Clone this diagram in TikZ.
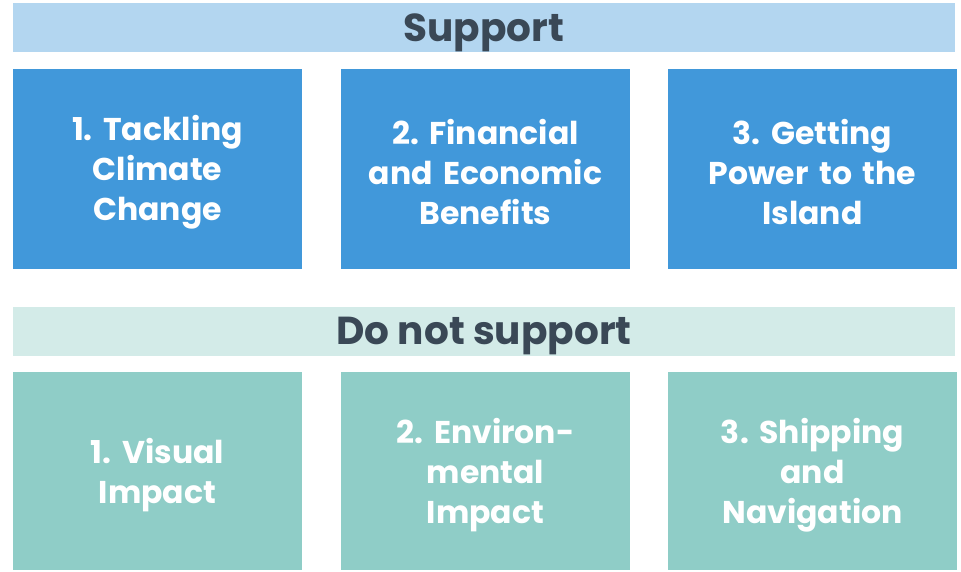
\documentclass[tikz,border=0pt]{standalone}
\usepackage{fontspec}
\setmainfont{Poppins}
\definecolor{barblue}{HTML}{B3D6F0}
\definecolor{boxblue}{HTML}{4198DA}
\definecolor{barteal}{HTML}{D3EBE8}
\definecolor{boxteal}{HTML}{8FCDC7}
\definecolor{headtext}{HTML}{3A4856}
\tikzset{
  bar/.style={fill=#1, minimum width=942pt, minimum height=49pt, inner sep=0pt,
    text=headtext, text depth=0pt, font=\fontsize{39}{44}\selectfont\bfseries\frenchspacing},
  tile/.style={fill=#1, minimum width=289pt, minimum height=200pt, inner sep=0pt},
  tiletext/.style={text=white, text width=280pt, align=center, inner sep=0pt, yshift=-4pt,
    font=\fontsize{31.5}{40}\selectfont\bfseries\frenchspacing}
}
\begin{document}
\begin{tikzpicture}[x=1pt,y=-1pt]
      \useasboundingbox (0,0) rectangle (961,571);
      \node[bar=barblue] (sup) at (484,27.5) {Support};
      \node[tile=boxblue] (s1) at (157.5,168.5) {};
      \node[tile=boxblue] (s2) at (485.5,168.5) {};
      \node[tile=boxblue] (s3) at (812.5,168.5) {};
      \node[tiletext] (s1txt) at (s1) {1. Tackling\\Climate\\Change};
      \node[tiletext] (s2txt) at (s2) {2. Financial\\and Economic\\Benefits};
      \node[tiletext] (s3txt) at (s3) {3. Getting\\Power to the\\Island};
      \node[bar=barteal] (nosup) at (484,331) {Do not support};
      \node[tile=boxteal, minimum height=198pt] (n1) at (157.5,471) {};
      \node[tile=boxteal, minimum height=198pt] (n2) at (485.5,471) {};
      \node[tile=boxteal, minimum height=198pt] (n3) at (812.5,471) {};
      \node[tiletext] (n1txt) at (n1) {1. Visual\\Impact};
      \node[tiletext] (n2txt) at (n2) {2. Environ-\\mental\\Impact};
      \node[tiletext] (n3txt) at (n3) {3. Shipping\\and\\Navigation};
    \end{tikzpicture}
\end{document}
